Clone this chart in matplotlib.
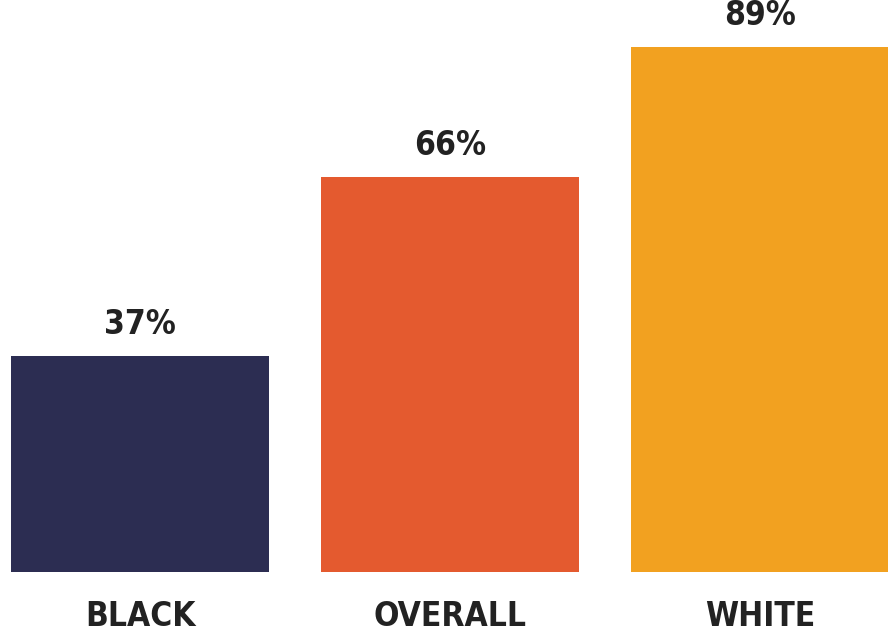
import matplotlib
matplotlib.use("Agg")
import matplotlib.pyplot as plt
from matplotlib import font_manager

categories = ["BLACK", "OVERALL", "WHITE"]
values = [36.6, 66.9, 89]
value_labels = ["37%", "66%", "89%"]
colors = ["#2c2d52", "#e45a2f", "#f2a120"]

family = "DejaVu Sans"
stretch = "condensed"
for f in font_manager.fontManager.ttflist:
    if "Condensed" in f.name or "Narrow" in f.name:
        pass

fig = plt.figure(figsize=(8.88, 6.34), dpi=100)
ax = fig.add_axes([0, 1 - 572 / 634, 1, 572 / 634])
x = list(range(len(categories)))
ax.bar(x, values, width=258 / 310, color=colors)
ax.set_xlim(-140 / 310, (888 - 140) / 310)
ax.set_ylim(0, 572 / 5.9)
for xi, v, lab in zip(x, values, value_labels):
    ax.annotate(lab, (xi, v), xytext=(0, 11), textcoords="offset points",
                ha="center", va="bottom", fontsize=24, fontweight="bold",
                fontstretch=stretch, color="#222222", family=family)
ax.set_xticks(x)
ax.set_xticklabels(categories, fontsize=24, fontweight="bold", fontstretch=stretch,
                   color="#222222", family=family)
ax.tick_params(axis="x", length=0, pad=20)
ax.set_yticks([])
for s in ax.spines.values():
    s.set_visible(False)
fig.savefig("out.png", dpi=100)
